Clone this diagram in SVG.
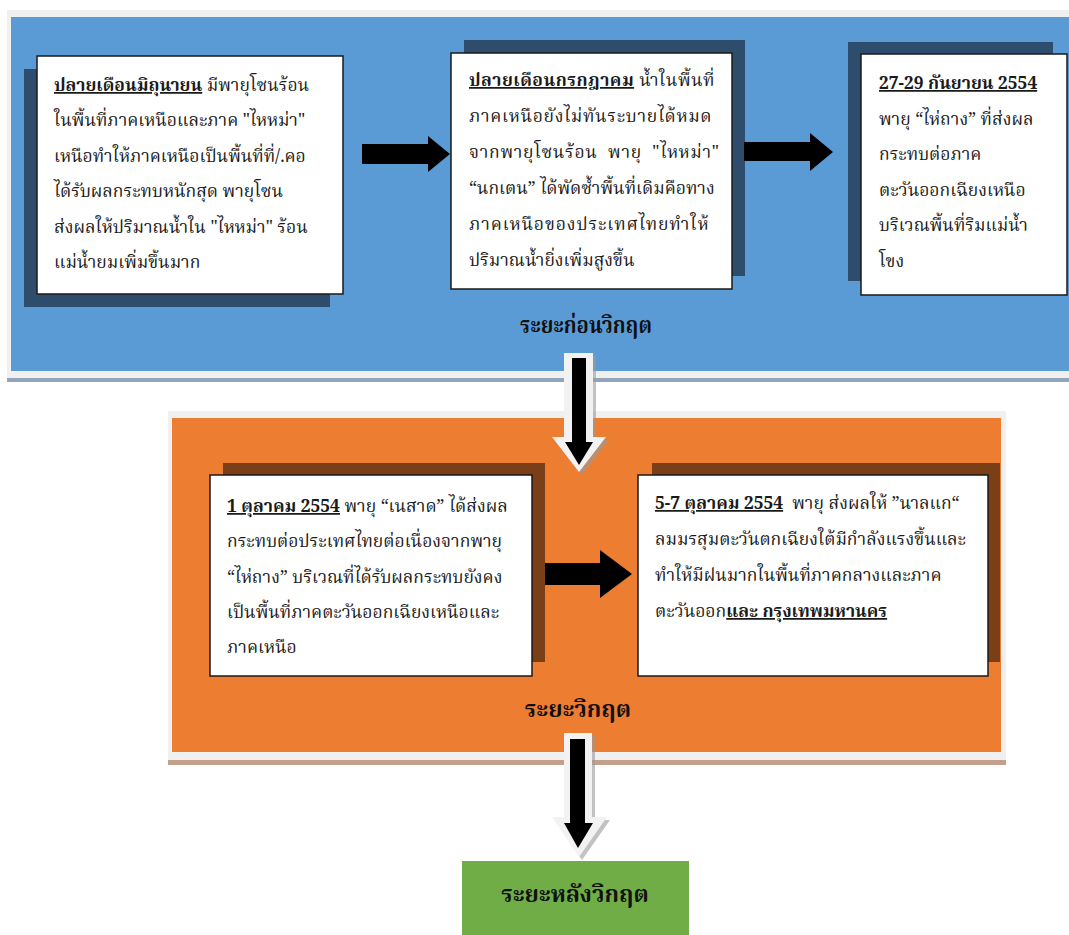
<svg xmlns="http://www.w3.org/2000/svg" width="1069" height="935" viewBox="0 0 1069 935">
<style>
.t{font-family:"Noto Serif Thai","Noto Sans Thai","Tlwg Typo","Garuda","Loma","DejaVu Sans",serif;font-size:17.5px;fill:#1a1a1a;white-space:pre}
.j{letter-spacing:0.7px}
.b{font-weight:bold;text-decoration:underline}
.lbl{font-family:"Noto Serif Thai","Noto Sans Thai","Garuda","Loma","DejaVu Sans",serif;font-size:23px;font-weight:bold;fill:#111111;text-anchor:middle}
.box{fill:#ffffff;stroke:#1a1a1a;stroke-width:1.5}
.sb{fill:#2e4d6c}
.so{fill:#7b3f18}
.arr{fill:#000000}
</style>
<rect width="1069" height="935" fill="#ffffff"/>
<g id="panel-before">
<rect x="7" y="10" width="1062" height="368" fill="#f0f0f0"/>
<rect x="11" y="17" width="1058" height="354" fill="#5b9bd5"/>
<rect x="7" y="378" width="1062" height="4" fill="#91a6bb"/>
<text class="lbl" x="586" y="333" textLength="132" lengthAdjust="spacingAndGlyphs">ระยะก่อนวิกฤต</text>
</g>
<g id="panel-crisis">
<rect x="168" y="411" width="838" height="349" fill="#f0f0f0"/>
<rect x="172" y="418" width="829" height="334" fill="#ed7d31"/>
<rect x="168" y="760" width="838" height="5" fill="#c4a08a"/>
<text class="lbl" x="578" y="717">ระยะวิกฤต</text>
</g>
<g id="node-june">
<rect class="sb" x="24" y="69" width="306" height="238"/>
<rect class="box" x="37" y="56" width="306" height="238"/>
<text class="t" x="54" y="91"><tspan class="b">ปลายเดือนมิถุนายน</tspan> มีพายุโซนร้อน</text>
<text class="t" x="54" y="126">ในพื้นที่ภาคเหนือและภาค "ไหหม่า"</text>
<text class="t" x="54" y="162">เหนือทำให้ภาคเหนือเป็นพื้นที่ที่/.คอ</text>
<text class="t" x="54" y="197">ได้รับผลกระทบหนักสุด พายุโซน</text>
<text class="t" x="54" y="233">ส่งผลให้ปริมาณน้ำใน "ไหหม่า" ร้อน</text>
<text class="t" x="54" y="268">แม่น้ำยมเพิ่มขึ้นมาก</text>
</g>
<g id="node-july">
<rect class="sb" x="464" y="40" width="281" height="236"/>
<rect class="box" x="451" y="53" width="281" height="236"/>
<text class="t" x="469" y="86" style="letter-spacing:0.5px"><tspan class="b">ปลายเดือนกรกฎาคม</tspan> น้ำในพื้นที่</text>
<text class="t j" x="469" y="122">ภาคเหนือยังไม่ทันระบายได้หมด</text>
<text class="t j" x="469" y="158">จากพายุโซนร้อน  พายุ  "ไหหม่า"</text>
<text class="t" x="469" y="194">“นกเตน” ได้พัดซ้ำพื้นที่เดิมคือทาง</text>
<text class="t" x="469" y="230" style="letter-spacing:0.9px">ภาคเหนือของประเทศไทยทำให้</text>
<text class="t" x="469" y="266">ปริมาณน้ำยิ่งเพิ่มสูงขึ้น</text>
</g>
<g id="node-sep">
<rect class="sb" x="848" y="42" width="205" height="239"/>
<rect class="box" x="861" y="54" width="206" height="241"/>
<text class="t" x="879" y="89"><tspan class="b">27-29 กันยายน 2554</tspan></text>
<text class="t" x="879" y="125">พายุ “ไห่ถาง” ที่ส่งผล</text>
<text class="t" x="879" y="160">กระทบต่อภาค</text>
<text class="t" x="879" y="196">ตะวันออกเฉียงเหนือ</text>
<text class="t" x="879" y="231">บริเวณพื้นที่ริมแม่น้ำ</text>
<text class="t" x="879" y="267">โขง</text>
</g>
<g id="node-oct1">
<rect class="so" x="223" y="463" width="322" height="199"/>
<rect class="box" x="210" y="475" width="322" height="201"/>
<text class="t" x="227" y="512"><tspan class="b">1 ตุลาคม 2554</tspan> พายุ “เนสาด” ได้ส่งผล</text>
<text class="t" x="227" y="547">กระทบต่อประเทศไทยต่อเนื่องจากพายุ</text>
<text class="t" x="227" y="583">“ไห่ถาง” บริเวณที่ได้รับผลกระทบยังคง</text>
<text class="t" x="227" y="618">เป็นพื้นที่ภาคตะวันออกเฉียงเหนือและ</text>
<text class="t" x="227" y="653">ภาคเหนือ</text>
</g>
<g id="node-oct5">
<rect class="so" x="652" y="463" width="348" height="199"/>
<rect class="box" x="638" y="475" width="350" height="201"/>
<text class="t" x="655" y="509"><tspan class="b">5-7 ตุลาคม 2554</tspan>  พายุ ส่งผลให้ ”นาลแก“</text>
<text class="t" x="655" y="545">ลมมรสุมตะวันตกเฉียงใต้มีกำลังแรงขึ้นและ</text>
<text class="t" x="655" y="581">ทำให้มีฝนมากในพื้นที่ภาคกลางและภาค</text>
<text class="t" x="655" y="617">ตะวันออก<tspan class="b">และ กรุงเทพมหานคร</tspan></text>
</g>
<g id="node-after">
<rect x="462" y="861" width="227" height="80" fill="#70ad47"/>
<text class="lbl" x="575" y="902">ระยะหลังวิกฤต</text>
</g>
<g id="connectors">
<polygon class="arr" points="362,144 428,144 428,136 450,154 428,172 428,164 362,164"/>
<polygon class="arr" points="744,142 810,142 810,133 833,152 810,171 810,161 744,161"/>
<polygon class="arr" points="545,563 600,563 600,550 632,574 600,598 600,585 545,585"/>
<g>
<polygon points="567,356 596,356 596,440 609,440 582,475 555,440 567,440" fill="#9a9a9a" opacity="0.6"/>
<polygon points="564,353 593,353 593,437 606,437 579,472 552,437 564,437" fill="#f2f2f2"/>
<polygon class="arr" points="572,358 586,358 586,442 593,442 579,465 565,442 572,442"/>
</g>
<g>
<polygon points="567,736 595,736 595,820 610,820 582,860 555,820 567,820" fill="#9a9a9a" opacity="0.6"/>
<polygon points="564,733 592,733 592,817 607,817 579,857 552,817 564,817" fill="#f2f2f2"/>
<polygon class="arr" points="570,739 585,739 585,823 593,823 578,848 564,823 570,823"/>
</g>
</g>
</svg>
